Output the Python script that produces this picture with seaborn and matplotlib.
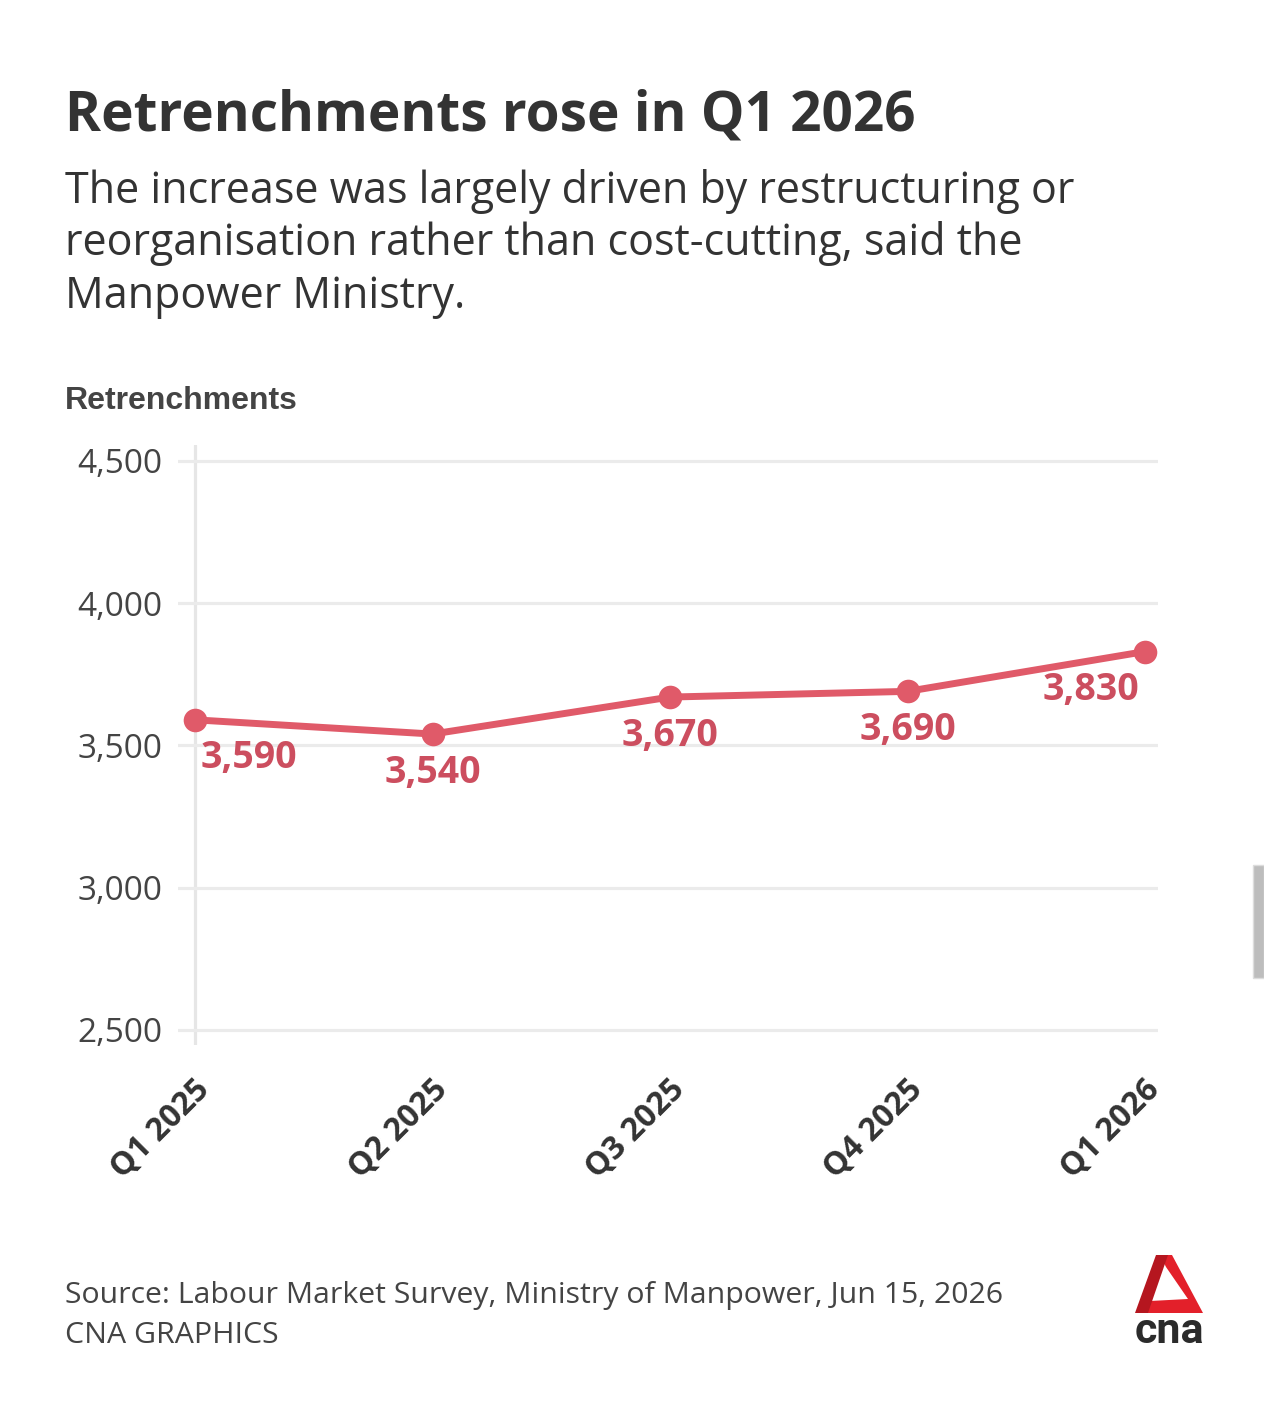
#!/usr/bin/env python3
"""CNA-style line chart: quarterly retrenchments, Q1 2025 - Q1 2026."""

import matplotlib.patches as mpatches
import matplotlib.pyplot as plt
import matplotlib.transforms as mtransforms
import pandas as pd
import seaborn as sns

QUARTERS = ["Q1 2025", "Q2 2025", "Q3 2025", "Q4 2025", "Q1 2026"]
RETRENCHMENTS = [3590, 3540, 3670, 3690, 3830]
Y_TICKS = [2500, 3000, 3500, 4000, 4500]

TITLE = "Retrenchments rose in Q1 2026"
SUBTITLE = [
    "The increase was largely driven by restructuring or",
    "reorganisation rather than cost-cutting, said the",
    "Manpower Ministry.",
]
Y_LABEL = "Retrenchments"
SOURCE = "Source: Labour Market Survey, Ministry of Manpower, Jun 15, 2026"
CREDIT = "CNA GRAPHICS"

LINE_RED = "#E05A69"
LABEL_RED = "#CC4E5F"
GRID = "#EBEBEB"
TEXT_DARK = "#333333"
TEXT_GRAY = "#444444"

W, H = 1264, 1411


def px(x, y):
    """pixel (from top-left) -> figure fraction"""
    return (x / W, 1 - y / H)


def main() -> None:
    sns.set_theme(style="white")
    plt.rcParams["font.family"] = ["Open Sans", "DejaVu Sans"]

    df = pd.DataFrame({"quarter": QUARTERS, "retrenchments": RETRENCHMENTS})

    fig = plt.figure(figsize=(W / 100, H / 100), dpi=100)
    fig.patch.set_facecolor("white")
    ax = fig.add_axes([178 / W, 1 - 1045 / H, 980 / W, 600 / H])

    sns.lineplot(
        data=df,
        x="quarter",
        y="retrenchments",
        sort=False,
        color=LINE_RED,
        linewidth=5,
        marker="o",
        markersize=17,
        markeredgewidth=0,
        ax=ax,
        zorder=3,
    )

    ax.set_xlim(-0.0716, 4.0547)
    ax.set_ylim(2447, 4556)
    ax.set_yticks(Y_TICKS)
    ax.set_yticklabels([f"{v:,}" for v in Y_TICKS])
    ax.set_xlabel("")
    ax.set_ylabel("")
    for s in ax.spines.values():
        s.set_visible(False)
    ax.yaxis.grid(True, color=GRID, linewidth=2.3)
    ax.xaxis.grid(False)
    ax.set_axisbelow(True)
    ax.axvline(0, color="#E6E6E6", linewidth=2.3, zorder=0)

    ax.tick_params(axis="y", length=0, pad=11, labelsize=24, labelcolor=TEXT_GRAY)
    ax.tick_params(axis="x", direction="in", length=11, width=2.3,
                   color="#E6E6E6", pad=29, labelsize=23, labelcolor=TEXT_DARK)
    shift = mtransforms.ScaledTranslation(0.1, 0, fig.dpi_scale_trans)
    for lab in ax.get_xticklabels():
        lab.set_rotation(45)
        lab.set_ha("right")
        lab.set_va("center")
        lab.set_rotation_mode("anchor")
        lab.set_fontweight("bold")
        lab.set_transform(lab.get_transform() + shift)

    # value labels under each point
    for i, (q, v) in enumerate(zip(QUARTERS, RETRENCHMENTS)):
        if i == 0:
            ha, dx = "left", 4
        elif i == len(QUARTERS) - 1:
            ha, dx = "right", -4
        else:
            ha, dx = "center", 0
        ax.annotate(f"{v:,}", (i, v), xytext=(dx, -35), textcoords="offset points",
                    ha=ha, va="baseline", fontsize=27, fontweight="bold",
                    color=LABEL_RED, zorder=4)

    # header
    fig.text(*px(65, 130), TITLE, fontsize=39.5, fontweight="bold",
             color=TEXT_DARK, va="baseline")
    for k, line in enumerate(SUBTITLE):
        fig.text(*px(65, 203 + 52.5 * k), line, fontsize=31, color=TEXT_DARK,
                 va="baseline")
    fig.text(*px(65, 409), Y_LABEL, fontsize=23, fontweight="bold",
             color=TEXT_GRAY, family=["Liberation Sans", "DejaVu Sans"], va="baseline")

    # footer
    fig.text(*px(65, 1303), SOURCE, fontsize=21.8, color=TEXT_GRAY, va="baseline")
    fig.text(*px(65, 1343), CREDIT, fontsize=21.8, color=TEXT_GRAY, va="baseline")

    # cna logo
    left_leg = [(1156, 1255), (1168, 1255), (1148, 1313), (1135, 1313)]
    right_leg = [(1160, 1255), (1172, 1255), (1203, 1313), (1144, 1313),
                 (1150, 1301), (1188, 1299), (1166, 1267)]
    fig.patches.append(mpatches.Polygon([px(*p) for p in right_leg], closed=True,
                                        facecolor="#E3202A", edgecolor="none",
                                        transform=fig.transFigure, figure=fig))
    fig.patches.append(mpatches.Polygon([px(*p) for p in left_leg], closed=True,
                                        facecolor="#B5161F", edgecolor="none",
                                        transform=fig.transFigure, figure=fig))
    fig.text(*px(1169, 1343), "cna", fontsize=31, fontweight="bold",
             color="#2B2B2B", family=["Roboto", "DejaVu Sans"],
             ha="center", va="baseline")

    # scrollbar from the screenshot
    fig.patches.append(mpatches.Rectangle(px(1253, 978), 11 / W, 113 / H,
                                          facecolor="#BDBDBD", edgecolor="#DDDDDD",
                                          linewidth=1, transform=fig.transFigure,
                                          figure=fig))

    fig.savefig("out.png", dpi=100, facecolor="white")
    plt.close(fig)


if __name__ == "__main__":
    main()
